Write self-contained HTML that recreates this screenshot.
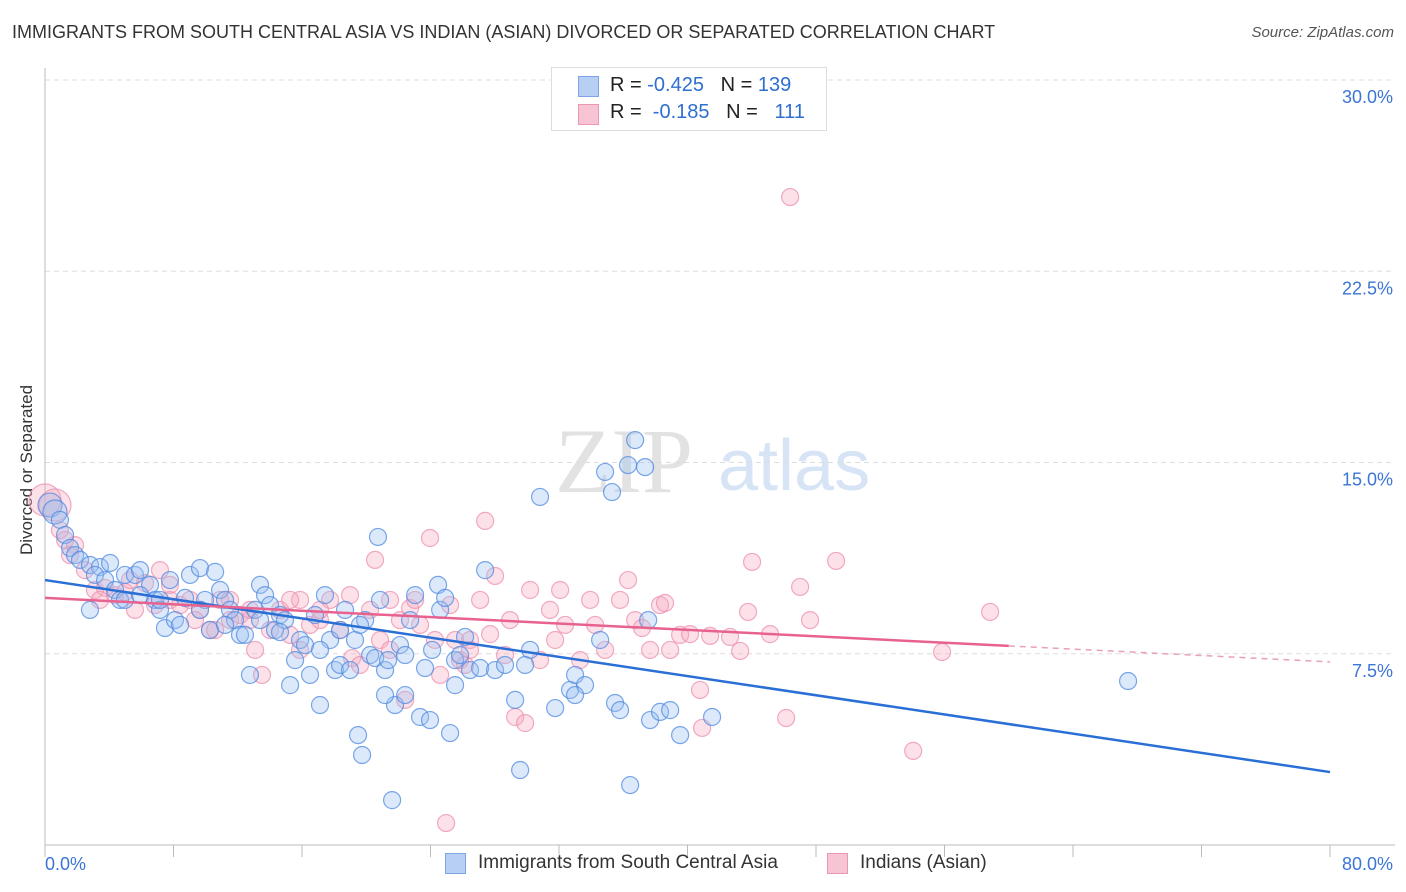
<!DOCTYPE html>
<html><head><meta charset="utf-8"><style>
body{margin:0;background:#fff;font-family:"Liberation Sans",sans-serif;}
#wrap{position:relative;width:1406px;height:892px;overflow:hidden;}
.t{position:absolute;white-space:nowrap;}
</style></head><body>
<div id="wrap">
<div class="t" style="left:12px;top:22px;font-size:18px;color:#333;">IMMIGRANTS FROM SOUTH CENTRAL ASIA VS INDIAN (ASIAN) DIVORCED OR SEPARATED CORRELATION CHART</div>
<div class="t" style="right:12px;top:24px;font-size:15px;color:#555;font-style:italic;">Source: ZipAtlas.com</div>
<div class="t" style="left:6px;top:455px;font-size:17px;color:#333;transform:rotate(-90deg);transform-origin:0 0;top:555px;left:17px;">Divorced or Separated</div>
<svg id="svg" width="1406" height="892" style="position:absolute;left:0;top:0"></svg>
<div class="t" style="left:551px;top:67px;width:274px;height:62px;border:1px solid #ddd;background:#fff;">
 <div style="position:absolute;left:26px;top:8px;width:19px;height:19px;background:#b7cff3;border:1px solid #7ea6e6;"></div>
 <div style="position:absolute;left:58px;top:6px;font-size:20px;color:#222;">R = <span style="color:#2f6fd0">-0.425</span>&nbsp;&nbsp;&nbsp;N = <span style="color:#2f6fd0">139</span></div>
 <div style="position:absolute;left:26px;top:36px;width:19px;height:19px;background:#f7c4d3;border:1px solid #ea98b2;"></div>
 <div style="position:absolute;left:58px;top:33px;font-size:20px;color:#222;">R = &nbsp;<span style="color:#2f6fd0">-0.185</span>&nbsp;&nbsp;&nbsp;N = &nbsp;&nbsp;<span style="color:#2f6fd0">111</span></div>
</div>
<div class="t" style="left:445px;top:853px;width:19px;height:19px;background:#b7cff3;border:1px solid #7ea6e6;"></div>
<div class="t" style="left:478px;top:852px;font-size:19px;color:#333;">Immigrants from South Central Asia</div>
<div class="t" style="left:827px;top:853px;width:19px;height:19px;background:#f7c4d3;border:1px solid #ea98b2;"></div>
<div class="t" style="left:860px;top:852px;font-size:19px;color:#333;">Indians (Asian)</div>
</div>
<script>
const yTicks=[7.5,15,22.5,30];
const yTickLabels=["7.5%","15.0%","22.5%","30.0%"];
const xTicks=[0,8,16,24,32,40,48,56,64,72,80];
const xEndLabels=["0.0%","80.0%"];
const blueX=[0.31,0.62,0.93,1.25,1.56,1.87,2.18,2.8,3.42,4.05,3.11,3.74,4.36,4.67,4.98,5.6,5.92,6.54,6.85,7.16,7.47,7.78,8.09,8.41,8.72,9.03,9.65,9.96,10.27,10.59,10.9,11.21,11.52,11.83,12.14,12.45,12.76,13.08,13.39,13.7,14.01,14.32,14.63,14.94,15.26,15.57,15.88,16.19,16.5,16.81,17.12,17.43,17.75,18.06,18.37,18.68,18.99,19.3,19.49,19.74,19.93,20.24,20.55,20.73,20.86,21.17,21.36,21.61,21.79,22.1,22.42,22.73,23.04,23.35,23.66,23.97,24.1,24.47,24.6,24.91,25.22,25.53,25.84,26.15,26.46,27.09,27.4,28.02,28.64,29.27,29.58,30.2,30.82,31.76,32.69,33,33.62,34.87,35.3,35.49,35.8,36.43,36.3,36.74,37.36,37.55,37.67,38.29,38.92,39.54,41.53,67.43,2.8,4.98,5.92,7.16,9.65,11.21,13.39,14.63,17.12,18.37,19.61,21.17,22.42,25.53,29.89,33,34.56];
const blueY=[13.33,13.06,12.75,12.16,11.65,11.37,11.18,10.98,10.9,11.06,10.59,10.39,10,9.61,10.59,10.59,10.78,10.2,9.61,9.22,8.51,10.39,8.82,8.63,9.69,10.59,10.86,9.61,8.43,10.71,10,9.61,9.22,8.82,8.24,8.24,6.67,9.22,10.2,9.8,9.41,8.43,9.02,8.82,6.27,7.25,8.04,7.84,6.67,9.02,5.49,9.8,8.04,6.86,7.06,9.22,6.86,8.04,4.31,3.53,8.82,7.45,7.33,12.08,9.61,6.86,7.25,1.76,5.49,7.84,5.88,8.82,9.8,5.02,6.94,4.9,7.65,10.2,9.22,9.69,4.39,7.25,7.45,8.16,6.86,6.94,10.78,6.86,7.06,5.69,2.94,7.65,13.65,5.37,6.08,6.67,6.27,14.63,13.84,5.57,5.29,2.35,14.9,15.88,14.82,8.82,4.9,5.22,5.29,4.31,5.02,6.43,9.22,9.61,9.8,9.61,9.22,8.63,8.82,8.35,7.65,8.43,8.63,5.88,7.45,6.27,7.06,5.88,8.04];
const pinkX=[0,0.62,0.93,1.25,1.87,2.49,3.11,3.74,4.36,4.98,5.6,6.23,6.85,7.16,7.78,8.41,9.03,9.65,10.27,10.9,11.52,12.14,12.76,13.08,13.51,14.01,14.63,15.26,15.88,16.5,17.12,17.75,18.37,18.99,19.12,19.61,20.24,20.55,20.86,21.48,22.1,22.73,23.35,23.97,24.28,24.6,25.22,25.84,26.15,26.46,27.09,27.4,27.71,28.02,28.64,28.95,29.27,29.89,30.2,30.82,31.44,31.76,32.07,32.38,33.31,33.94,34.25,34.87,35.8,36.3,36.74,37.17,37.67,38.29,38.6,38.92,39.54,40.16,40.78,40.91,41.41,42.65,43.28,43.77,44.02,45.14,46.14,46.39,47.01,47.63,49.25,54.05,55.85,58.84,24.97,21.48,23.04,22.42,25.53,26.46,15.88,17.12,3.42,5.29,7.78,11.52,15.26,12.76,9.34,10.59,1.56];
const pinkY=[13.53,13.33,12.35,11.96,11.76,10.78,10,10.08,9.8,9.92,9.22,10.27,9.41,10.78,9.61,9.41,9.61,9.22,8.43,9.61,8.82,9.02,8.82,7.65,6.67,8.43,9.22,8.24,9.61,8.63,8.82,9.61,8.43,9.8,7.33,7.06,9.22,11.18,8.04,7.65,8.82,9.29,8.63,12.04,8.04,6.67,9.41,7.25,7.06,8.04,9.61,12.71,8.27,10.55,7.45,8.82,5.02,4.78,10,7.25,9.22,8.04,10,8.63,7.25,9.61,8.63,7.65,9.61,10.39,8.82,8.51,7.65,9.41,9.49,7.65,8.24,8.27,6.08,4.59,8.2,8.16,7.61,9.14,11.1,8.27,4.98,25.41,10.12,8.82,11.14,3.69,7.57,9.14,0.86,9.61,9.61,5.69,8.04,7.65,7.65,9.22,9.61,10.39,10.2,9.61,9.61,9.22,8.82,8.43,11.37];
const blueFit=[10.39,2.86];
const pinkFit=[9.69,7.18];
const pinkSolidEnd=60;
const X0=45,X1=1330,Y0=845,YT=80;
const xs=v=>X0+(X1-X0)*v/80;
const ys=v=>Y0-(Y0-YT)*v/30;
const svg=document.getElementById('svg');
const NS='http://www.w3.org/2000/svg';
function mk(t,a){const e=document.createElementNS(NS,t);for(const k in a)e.setAttribute(k,a[k]);svg.appendChild(e);return e;}
// watermark
let w=mk('text',{x:555,y:492,'font-size':92,'font-family':'Liberation Serif,serif',fill:'#e2e2e2'});w.textContent='ZIP';


let w2=mk('text',{x:718,y:490,'font-size':72,'font-family':'Liberation Sans,sans-serif',fill:'#d7e4f6'});w2.textContent='atlas';


// grid
yTicks.forEach((v,i)=>{
 const g=mk('line',{x1:X0,x2:1395,y1:ys(v),y2:ys(v),stroke:'#ddd','stroke-dasharray':'5,4'});
 
 
 const t=mk('text',{x:1393,y:ys(v)+23,'text-anchor':'end','font-size':18,fill:'#3b75d6','font-family':'Liberation Sans,sans-serif'});
 t.textContent=yTickLabels[i];
 
 
});
let ax=mk('line',{x1:X0,x2:1395,y1:Y0,y2:Y0,stroke:'#bbb'});


let ay=mk('line',{x1:X0,x2:X0,y1:68,y2:Y0,stroke:'#bbb'});


xTicks.forEach(v=>{const l=mk('line',{x1:xs(v),x2:xs(v),y1:Y0,y2:Y0+12,stroke:'#bbb'});
 
 });
[[0,'start',45],[80,'end',1393]].forEach((a,i)=>{const t=mk('text',{x:a[2],y:870,'text-anchor':a[1],'font-size':18,fill:'#3b75d6','font-family':'Liberation Sans,sans-serif'});t.textContent=xEndLabels[i];
 
 });
function dots(X,Y,fill,stroke,name){X.forEach((x,i)=>{const r=(x<0.8&&Y[i]>13)?(name==='pink-point'?16:12):8.5;
 const c=mk('circle',{cx:xs(x),cy:ys(Y[i]),r:r,fill:fill,'fill-opacity':0.35,stroke:stroke,'stroke-opacity':0.75,'stroke-width':1.2});
 
 });}
dots(pinkX,pinkY,'#f5a9c0','#ec8fae','pink-point');
dots(blueX,blueY,'#9cc0f0','#4f8ae0','blue-point');
let bl=mk('line',{x1:xs(0),y1:ys(blueFit[0]),x2:xs(80),y2:ys(blueFit[1]),stroke:'#2a6fd6','stroke-width':2.5});


const pm=pinkFit[0]+(pinkFit[1]-pinkFit[0])*pinkSolidEnd/80;
let pl=mk('line',{x1:xs(0),y1:ys(pinkFit[0]),x2:xs(pinkSolidEnd),y2:ys(pm),stroke:'#e8628f','stroke-width':2.5});


let pd=mk('line',{x1:xs(pinkSolidEnd),y1:ys(pm),x2:xs(80),y2:ys(pinkFit[1]),stroke:'#e8a0b8','stroke-width':1.5,'stroke-dasharray':'6,5'});


</script>
</body></html>
